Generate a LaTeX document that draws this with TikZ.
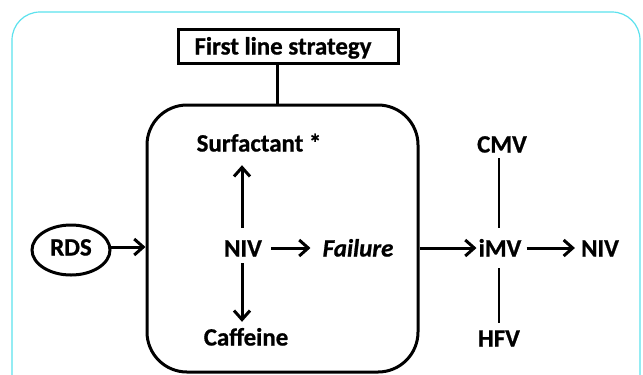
\documentclass[tikz,border=0pt]{standalone}
\usepackage{fontspec}
\setmainfont{Carlito}[BoldFeatures={FakeBold=0.8},BoldItalicFeatures={FakeBold=0.8}]
\usetikzlibrary{arrows.meta,shapes.geometric}
\definecolor{framecyan}{RGB}{92,226,238}
\tikzset{
  lbl/.style={inner sep=0pt, text height=17bp, text depth=0bp, font=\fontsize{25}{29}\selectfont\bfseries},
  arr/.style={line width=3bp, -{Straight Barb[length=9bp,width=16bp,line width=3bp]}},
  thick line/.style={line width=3bp},
  thin line/.style={line width=2.2bp}
}
\begin{document}
\begin{tikzpicture}[x=1bp,y=-1bp]
\useasboundingbox (0,0) rectangle (643,374);
\fill[white] (0,0) rectangle (643,374);
\begin{scope}
\clip (0,0) rectangle (643,374);
\draw[framecyan, line width=1.2bp, rounded corners=28bp] (12,12) rectangle (640,420);
\end{scope}

% top box
\node[draw, thick line, minimum width=220bp, minimum height=34bp, inner sep=0pt] (top) at (288,46) {};
\node[lbl] (toptxt) at (283,46) {First line strategy};

% rounded box
\node[draw, thick line, rounded corners=40bp, minimum width=271bp, minimum height=267bp, inner sep=0pt] (strat) at (282.5,238.5) {};
\draw[thick line] (top.south -| 277,0) -- (strat.north -| 277,0);

% RDS
\node[draw, ellipse, thick line, minimum width=78bp, minimum height=50bp, inner sep=0pt] (rds) at (71,250) {};
\node[lbl] (rdstxt) at (71,247) {RDS};
\coordinate (rdsout) at (109,247);
\draw[arr] (rdsout) -- (strat.west |- rdsout);

% inside
\node[lbl] (niv1) at (243,248) {NIV};
\node[lbl] (surf) at (259,143) {Surfactant *};
\node[lbl] (caff) at (246,337) {Caffeine};
\node[lbl, font=\fontsize{25}{29}\selectfont\bfseries\itshape] (fail) at (358,248) {Failure};

\draw[arr, shorten <=11.5bp, shorten >=13.5bp] ([xshift=-1bp]niv1.north) -- ([xshift=-1bp]niv1.north |- surf.south);
\draw[arr, shorten <=6.5bp, shorten >=6.5bp] ([xshift=-1bp]niv1.south) -- ([xshift=-1bp]niv1.south |- caff.north);
\draw[arr, shorten <=9bp, shorten >=12bp] (niv1.east) -- (fail.west);

% right part
\node[lbl] (imv) at (500,248) {iMV};
\node[lbl] (niv2) at (600,248) {NIV};
\node[lbl] (cmv) at (502,144) {CMV};
\node[lbl] (hfv) at (499,338) {HFV};

\draw[arr, shorten >=2bp] (strat.east |- imv) -- (imv.west);
\draw[arr, shorten <=5bp, shorten >=6bp] (imv.east) -- (niv2.west);
\draw[thin line, shorten <=5.5bp, shorten >=11.5bp] (cmv.south -| 499,0) -- (imv.north -| 499,0);
\draw[thin line, shorten <=11.5bp, shorten >=6.5bp] (imv.south -| 499,0) -- (hfv.north -| 499,0);
\end{tikzpicture}
\end{document}
